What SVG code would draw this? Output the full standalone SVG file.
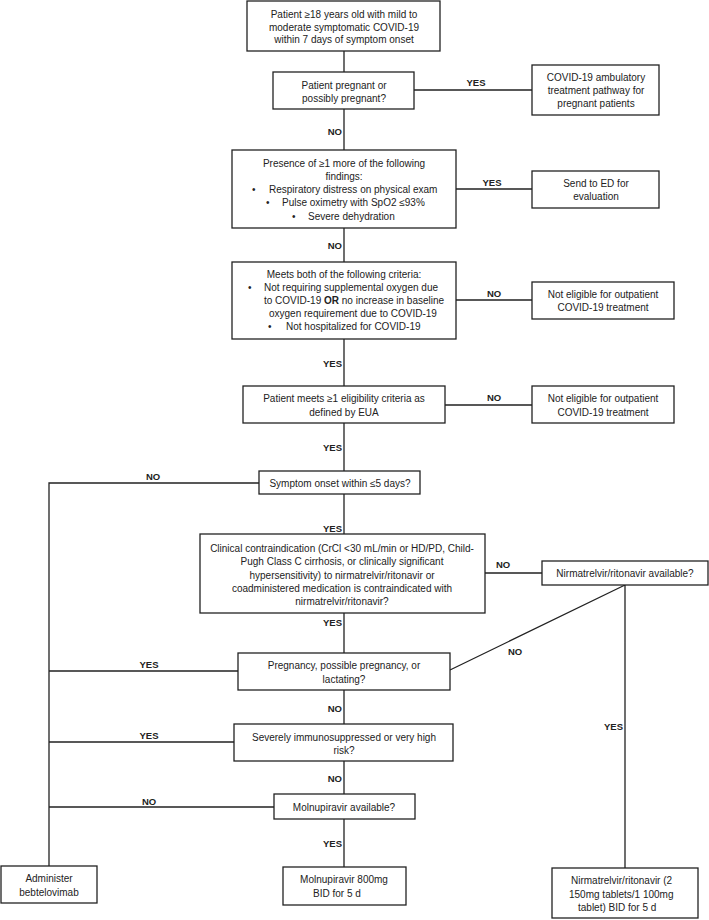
<svg xmlns="http://www.w3.org/2000/svg" width="709" height="920" viewBox="0 0 709 920">
<style>
.box{fill:#fff;stroke:#222;stroke-width:1.3}
.ln{stroke:#222;stroke-width:1.3;fill:none}
text{font-family:"Liberation Sans",Arial,sans-serif;font-size:10px;fill:#222}
.c{text-anchor:middle}
.lb{font-weight:bold;font-size:9.5px}
.e{text-anchor:end}
</style>
<rect width="709" height="920" fill="#fff"/>
<g id="connectors">
<path class="ln" d="M344 51V72M344 109V150M344 228V262M344 339V386M344 423V471M344 494V534M344 613V653M344 690V724M344 761V794M344 819V867"/>
<path class="ln" d="M414 90H532M456 189H532M456 300H532M445 405H532"/>
<path class="ln" d="M259 483H49V866M485 573H542M238 671H49M234 742H49M274 807H49"/>
<path class="ln" d="M450 670L625 585M625 585V868"/>
<text class="lb c" x="476" y="86">YES</text>
<text class="lb e" x="342" y="135">NO</text>
<text class="lb c" x="492" y="186">YES</text>
<text class="lb e" x="342" y="249">NO</text>
<text class="lb c" x="494" y="297">NO</text>
<text class="lb e" x="342" y="367">YES</text>
<text class="lb c" x="494" y="401">NO</text>
<text class="lb e" x="342" y="451">YES</text>
<text class="lb c" x="153" y="480">NO</text>
<text class="lb e" x="342" y="532">YES</text>
<text class="lb c" x="503" y="568">NO</text>
<text class="lb e" x="342" y="626">YES</text>
<text class="lb c" x="515" y="655">NO</text>
<text class="lb c" x="149" y="668">YES</text>
<text class="lb e" x="342" y="712">NO</text>
<text class="lb c" x="149" y="739">YES</text>
<text class="lb e" x="342" y="782">NO</text>
<text class="lb c" x="149" y="805">NO</text>
<text class="lb e" x="342" y="847">YES</text>
<text class="lb e" x="623" y="730">YES</text>
</g>
<g id="n1"><rect class="box" x="247" y="1" width="193" height="50"/>
<text class="c" x="344" y="18">Patient ≥18 years old with mild to</text>
<text class="c" x="344" y="31">moderate symptomatic COVID-19</text>
<text class="c" x="344" y="43">within 7 days of symptom onset</text></g>
<g id="n2"><rect class="box" x="273" y="72" width="141" height="37"/>
<text class="c" x="344" y="89">Patient pregnant or</text>
<text class="c" x="344" y="102">possibly pregnant?</text></g>
<g id="n3"><rect class="box" x="532" y="65" width="127" height="50"/>
<text class="c" x="596" y="81">COVID-19 ambulatory</text>
<text class="c" x="596" y="94">treatment pathway for</text>
<text class="c" x="596" y="107">pregnant patients</text></g>
<g id="n4"><rect class="box" x="232" y="150" width="224" height="78"/>
<text class="c" x="344" y="167">Presence of ≥1 more of the following</text>
<text class="c" x="344" y="180">findings:</text>
<text x="252" y="193">•</text><text x="269" y="193">Respiratory distress on physical exam</text>
<text x="266" y="206">•</text><text x="282" y="206">Pulse oximetry with SpO2 ≤93%</text>
<text x="292" y="220">•</text><text x="308" y="220">Severe dehydration</text></g>
<g id="n5"><rect class="box" x="532" y="171" width="127" height="37"/>
<text class="c" x="596" y="187">Send to ED for</text>
<text class="c" x="596" y="200">evaluation</text></g>
<g id="n6"><rect class="box" x="232" y="262" width="224" height="77"/>
<text class="c" x="344" y="278">Meets both of the following criteria:</text>
<text x="248" y="291">•</text><text x="264" y="291">Not requiring supplemental oxygen due</text>
<text x="264" y="304">to COVID-19 <tspan font-weight="bold">OR</tspan> no increase in baseline</text>
<text x="269" y="317">oxygen requirement due to COVID-19</text>
<text x="268" y="330">•</text><text x="286" y="330">Not hospitalized for COVID-19</text></g>
<g id="n7"><rect class="box" x="532" y="282" width="142" height="37"/>
<text class="c" x="603" y="298">Not eligible for outpatient</text>
<text class="c" x="603" y="311">COVID-19 treatment</text></g>
<g id="n8"><rect class="box" x="243" y="386" width="202" height="37"/>
<text class="c" x="344" y="402">Patient meets ≥1 eligibility criteria as</text>
<text class="c" x="344" y="416">defined by EUA</text></g>
<g id="n9"><rect class="box" x="532" y="386" width="142" height="37"/>
<text class="c" x="603" y="402">Not eligible for outpatient</text>
<text class="c" x="603" y="416">COVID-19 treatment</text></g>
<g id="n10"><rect class="box" x="259" y="471" width="161" height="23"/>
<text class="c" x="340" y="487">Symptom onset within ≤5 days?</text></g>
<g id="n11"><rect class="box" x="200" y="534" width="285" height="79"/>
<text class="c" x="342" y="552">Clinical contraindication (CrCl &lt;30 mL/min or HD/PD, Child-</text>
<text class="c" x="342" y="565">Pugh Class C cirrhosis, or clinically significant</text>
<text class="c" x="342" y="579">hypersensitivity) to nirmatrelvir/ritonavir or</text>
<text class="c" x="342" y="592">coadministered medication is contraindicated with</text>
<text class="c" x="342" y="605">nirmatrelvir/ritonavir?</text></g>
<g id="n12"><rect class="box" x="542" y="561" width="166" height="24"/>
<text class="c" x="625" y="577">Nirmatrelvir/ritonavir available?</text></g>
<g id="n13"><rect class="box" x="238" y="653" width="212" height="37"/>
<text class="c" x="344" y="669">Pregnancy, possible pregnancy, or</text>
<text class="c" x="344" y="683">lactating?</text></g>
<g id="n14"><rect class="box" x="234" y="724" width="219" height="37"/>
<text class="c" x="344" y="741">Severely immunosuppressed or very high</text>
<text class="c" x="344" y="754">risk?</text></g>
<g id="n15"><rect class="box" x="274" y="794" width="141" height="25"/>
<text class="c" x="344" y="811">Molnupiravir available?</text></g>
<g id="n16"><rect class="box" x="283" y="867" width="123" height="38"/>
<text class="c" x="344" y="883">Molnupiravir 800mg</text>
<text x="313" y="897">BID for 5 d</text></g>
<g id="n17"><rect class="box" x="1" y="866" width="96" height="37"/>
<text class="c" x="49" y="882">Administer</text>
<text class="c" x="49" y="896">bebtelovimab</text></g>
<g id="n18"><rect class="box" x="552" y="868" width="146" height="50"/>
<text x="571" y="884">Nirmatrelvir/ritonavir (2</text>
<text x="569" y="898">150mg tablets/1 100mg</text>
<text x="578" y="911">tablet) BID for 5 d</text></g>
</svg>
